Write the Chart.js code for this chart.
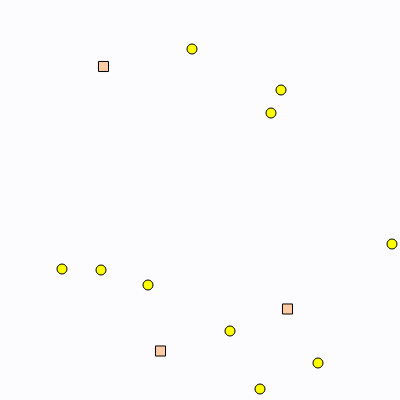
<!DOCTYPE html>
<html><head><meta charset="utf-8">
<script src="https://cdn.jsdelivr.net/npm/chart.js@4/dist/chart.umd.min.js"></script>
<style>html,body{margin:0;padding:0;background:#fcfcfe;}#wrap{width:400px;height:400px;}</style>
</head><body><div id="wrap"><canvas id="c" width="400" height="400"></canvas></div>
<script>
const circleX = [192, 281, 271, 392, 62, 101, 148, 230, 318, 260];
const circleY = [351, 310, 287, 156, 131, 130, 115, 69, 37, 11];
const squareX = [103.5, 287.5, 160.5];
const squareY = [333.5, 91, 49];

const circles = circleX.map((x, i) => ({x, y: circleY[i]}));
const squares = squareX.map((x, i) => ({x, y: squareY[i]}));

new Chart(document.getElementById('c'), {
  type: 'scatter',
  data: {datasets: [
    {data: circles, pointStyle: 'circle', pointRadius: 5, backgroundColor: '#ffff00', borderColor: '#000000', borderWidth: 1},
    {data: squares, pointStyle: 'rect', pointRadius: 7.1, backgroundColor: '#ffcba4', borderColor: '#000000', borderWidth: 1}
  ]},
  options: {
    responsive: false, animation: false,
    layout: {padding: 0, autoPadding: false},
    plugins: {legend: {display: false}, tooltip: {enabled: false}},
    scales: {
      x: {type: 'linear', min: 0, max: 400, display: false},
      y: {type: 'linear', min: 0, max: 400, display: false}
    }
  }
});
</script></body></html>
